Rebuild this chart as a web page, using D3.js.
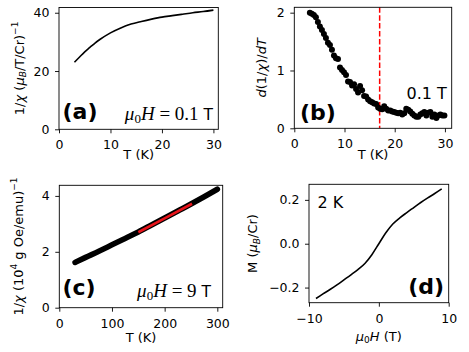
<!DOCTYPE html>
<html><head><meta charset="utf-8">
<script src="https://cdn.jsdelivr.net/npm/d3@7"></script>
<style>
body{margin:0;background:#fff}
svg{display:block}
text{font-family:"DejaVu Sans",sans-serif;fill:#000}
</style></head>
<body>
<svg id="fig" width="469" height="352"></svg>
<script>
// ---- data ----
// (a) 1/chi vs T at 0.1 T
const tempA = [3,4,5,6,7,8,10,12,14,16,18,20,22,24,26,28,30];
const invChiA = [23.0,24.8,26.6,28.1,29.6,30.9,33.1,34.8,36.1,37.0,37.8,38.5,39.0,39.5,40.0,40.4,40.9];
// (b) derivative d(1/chi)/dT
const tempB = [3.1,3.5,3.9,4.3,4.7,5.1,5.5,5.9,6.3,6.7,7.1,7.5,7.9,8.3,8.7,9.1,9.5,9.9,10.3,10.7,11.1,11.5,11.9,12.3,12.7,13.1,13.5,13.9,14.3,14.7,15.1,15.5,15.9,16.3,16.7,17.1,17.5,17.9,18.3,18.7,19.1,19.5,19.9,20.3,20.7,21.1,21.5,21.9,22.3,22.7,23.1,23.5,23.9,24.3,24.7,25.1,25.5,25.9,26.3,26.7,27.1,27.5,27.9,28.3,28.7,29.1,29.5,29.9];
const derivB = [2.00,1.98,1.96,1.92,1.84,1.76,1.70,1.63,1.56,1.48,1.44,1.36,1.26,1.21,1.20,1.05,1.01,0.97,0.92,0.81,0.80,0.74,0.76,0.68,0.62,0.73,0.66,0.56,0.55,0.50,0.47,0.45,0.43,0.42,0.36,0.34,0.33,0.38,0.34,0.31,0.31,0.29,0.28,0.27,0.26,0.27,0.24,0.26,0.34,0.32,0.29,0.25,0.22,0.20,0.20,0.24,0.26,0.28,0.22,0.27,0.28,0.20,0.24,0.18,0.22,0.24,0.22,0.22];
const markerTemp = 17;
// (c) 1/chi vs T at 9 T (units 10^4 g Oe/emu)
const tempC = [30,50,75,100,125,150,175,200,225,250,275,300];
const invChiC = [1.62,1.80,2.02,2.25,2.48,2.71,2.96,3.21,3.46,3.71,3.97,4.24];
const fitTempC = [150,200,252];
const fitValC = [2.70,3.20,3.72];
// (d) M vs H at 2 K
const fieldD = [-9,-8,-7,-6,-5,-4,-3,-2,-1,0,1,2,3,4,5,6,7,8,9];
const momentD = [-0.25,-0.229,-0.209,-0.188,-0.165,-0.142,-0.118,-0.090,-0.050,0,0.050,0.090,0.118,0.142,0.165,0.188,0.209,0.229,0.25];
// ticks
const ticksA = {x:[0,10,20,30], y:[0,20,40]};
const ticksB = {x:[0,10,20,30], y:[0,1,2]};
const ticksC = {x:[0,100,200,300], y:[0,2,4]};
const ticksD = {x:[-10,0,10], y:[-0.2,0.0,0.2]};

const svg = d3.select("#fig");
svg.append("rect").attr("width",469).attr("height",352).attr("fill","#fff");
const minus = s => String(s).replace("-", "\u2212");
const TICK_FS = 12.5, LABEL_FS = 13;

function panel(box, xd, yd, ticks, xfmt, yfmt){
  const x = d3.scaleLinear().domain(xd).range([box.l, box.r]);
  const y = d3.scaleLinear().domain(yd).range([box.b, box.t]);
  const g = svg.append("g");
  const ax = g.append("g").attr("transform",`translate(0,${box.b})`)
    .call(d3.axisBottom(x).tickValues(ticks.x).tickFormat(xfmt).tickSizeOuter(0).tickSize(4).tickPadding(7));
  const ay = g.append("g").attr("transform",`translate(${box.l},0)`)
    .call(d3.axisLeft(y).tickValues(ticks.y).tickFormat(yfmt).tickSizeOuter(0).tickSize(4).tickPadding(5.5));
  [ax,ay].forEach(a=>{
    a.select(".domain").remove();
    a.selectAll("line").attr("stroke","#000").attr("stroke-width",0.9);
    a.selectAll("text").attr("font-size",TICK_FS).attr("font-family","DejaVu Sans").attr("fill","#000");
  });
  const clipId = "c"+Math.round(box.l)+Math.round(box.t);
  svg.append("clipPath").attr("id",clipId).append("rect")
    .attr("x",box.l).attr("y",box.t).attr("width",box.r-box.l).attr("height",box.b-box.t);
  const plot = g.append("g").attr("clip-path",`url(#${clipId})`);
  g.append("rect").attr("x",box.l).attr("y",box.t).attr("width",box.r-box.l).attr("height",box.b-box.t)
    .attr("fill","none").attr("stroke","#000").attr("stroke-width",0.9);
  return {x,y,g,plot};
}
const fmtInt = d => minus(d3.format("d")(d));
const fmt1 = d => minus(d3.format(".1f")(d));

// ---- (a) ----
const A = panel({l:59,r:218.3,t:7.5,b:129.3}, [0,30.95], [0,41.8], ticksA, fmtInt, fmtInt);
A.plot.append("path").datum(tempA.map((t,i)=>[t,invChiA[i]]))
  .attr("d", d3.line().x(d=>A.x(d[0])).y(d=>A.y(d[1])).curve(d3.curveMonotoneX))
  .attr("fill","none").attr("stroke","#000").attr("stroke-width",1.6);

// ---- (b) ----
const B = panel({l:294.3,r:451.7,t:7.3,b:128.3}, [0,31.35], [0,2.093], ticksB, fmtInt, fmtInt);
B.plot.append("line").attr("x1",B.x(markerTemp)).attr("x2",B.x(markerTemp))
  .attr("y1",B.y(2.093)).attr("y2",B.y(0))
  .attr("stroke","red").attr("stroke-width",1.5).attr("stroke-dasharray","5.5,2.4");
B.plot.selectAll("circle.d").data(tempB.map((t,i)=>[t,derivB[i]])).enter().append("circle")
  .attr("cx",d=>B.x(d[0])).attr("cy",d=>B.y(d[1])).attr("r",3).attr("fill","#000");

// ---- (c) ----
const C = panel({l:59.3,r:222.7,t:185.3,b:307.7}, [0,310.2], [0,4.38], ticksC, fmtInt, fmtInt);
C.plot.append("path").datum(tempC.map((t,i)=>[t,invChiC[i]]))
  .attr("d", d3.line().x(d=>C.x(d[0])).y(d=>C.y(d[1])).curve(d3.curveMonotoneX))
  .attr("fill","none").attr("stroke","#000").attr("stroke-width",5.6).attr("stroke-linecap","round");
C.plot.append("path").datum(fitTempC.map((t,i)=>[t,fitValC[i]]))
  .attr("d", d3.line().x(d=>C.x(d[0])).y(d=>C.y(d[1])))
  .attr("fill","none").attr("stroke","#e8141b").attr("stroke-width",2.6);

// ---- (d) ----
const D = panel({l:309,r:448.7,t:184.3,b:302.7}, [-10,10], [-0.269,0.271], ticksD, fmtInt, fmt1);
D.plot.append("path").datum(fieldD.map((h,i)=>[h,momentD[i]]))
  .attr("d", d3.line().x(d=>D.x(d[0])).y(d=>D.y(d[1])).curve(d3.curveMonotoneX))
  .attr("fill","none").attr("stroke","#000").attr("stroke-width",1.6);

// ---- texts ----
function rich(x, y, parts, opts={}){
  const t = svg.append("text").attr("x",x).attr("y",y)
    .attr("font-size",opts.size||LABEL_FS).attr("text-anchor",opts.anchor||"start");
  if(opts.ff) t.attr("font-family",opts.ff);
  if(opts.rotate) t.attr("transform",`rotate(-90,${x},${y})`);
  let shift = 0;
  parts.forEach(p=>{
    const ts = t.append("tspan").text(p.t);
    const want = p.dy||0;
    if(want!==shift){ ts.attr("dy", want-shift); shift = want; }
    if(p.it) ts.attr("font-style","italic");
    if(p.ff) ts.attr("font-family",p.ff);
    if(p.fs) ts.attr("font-size",p.fs);
  });
  return t;
}
const SUB = 9;
// axis labels
rich(138.7,158.5,[{t:"T (K)"}],{anchor:"middle"});
rich(373,158.5,[{t:"T (K)"}],{anchor:"middle"});
rich(141,341.7,[{t:"T (K)"}],{anchor:"middle"});
rich(378.8,340.5,[{t:"μ",it:1},{t:"0",fs:SUB,dy:2.5},{t:"H",it:1},{t:" (T)"}],{anchor:"middle"});

rich(24,68.4,[{t:"1/"},{t:"χ",it:1},{t:" ("},{t:"μ",it:1},{t:"B",it:1,fs:SUB,dy:2.5},{t:"/T/Cr)"},{t:"−1",fs:SUB,dy:-6}],{anchor:"middle",rotate:1});
rich(266.5,67.8,[{t:"d",it:1},{t:"(1/"},{t:"χ",it:1},{t:")/"},{t:"dT",it:1}],{anchor:"middle",rotate:1});
rich(23,246.5,[{t:"1/"},{t:"χ",it:1},{t:" (10"},{t:"4",fs:SUB,dy:-6},{t:" g Oe/emu)"},{t:"−1",fs:SUB,dy:-6}],{anchor:"middle",rotate:1});
rich(257,243.5,[{t:"M ("},{t:"μ",it:1},{t:"B",it:1,fs:SUB,dy:2.5},{t:"/Cr)"}],{anchor:"middle",rotate:1});

// panel tags
const TAG = {size:22, ff:"Liberation Sans"};
rich(62.5,119,[{t:"(a)"}],TAG).attr("font-weight","bold");
rich(300,119.5,[{t:"(b)"}],TAG).attr("font-weight","bold");
rich(62.5,295,[{t:"(c)"}],TAG).attr("font-weight","bold");
rich(444,293.5,[{t:"(d)"}],Object.assign({anchor:"end"},TAG)).attr("font-weight","bold");

// annotations
const serif = "Liberation Serif";
rich(213,119.5,[{t:"μ",it:1,ff:serif},{t:"0",ff:serif,fs:13,dy:3.5},{t:"H",it:1,ff:serif},{t:" = 0.1",ff:serif},{t:" T",fs:15.5}],{size:19,anchor:"end"});
rich(211,296.5,[{t:"μ",it:1,ff:serif},{t:"0",ff:serif,fs:13,dy:3.5},{t:"H",it:1,ff:serif},{t:" = 9",ff:serif},{t:" T",fs:15.5}],{size:19,anchor:"end"});
rich(406.5,99.3,[{t:"0.1 T"}],{size:16});
rich(317.5,208.3,[{t:"2 K"}],{size:16});
</script>
</body></html>
